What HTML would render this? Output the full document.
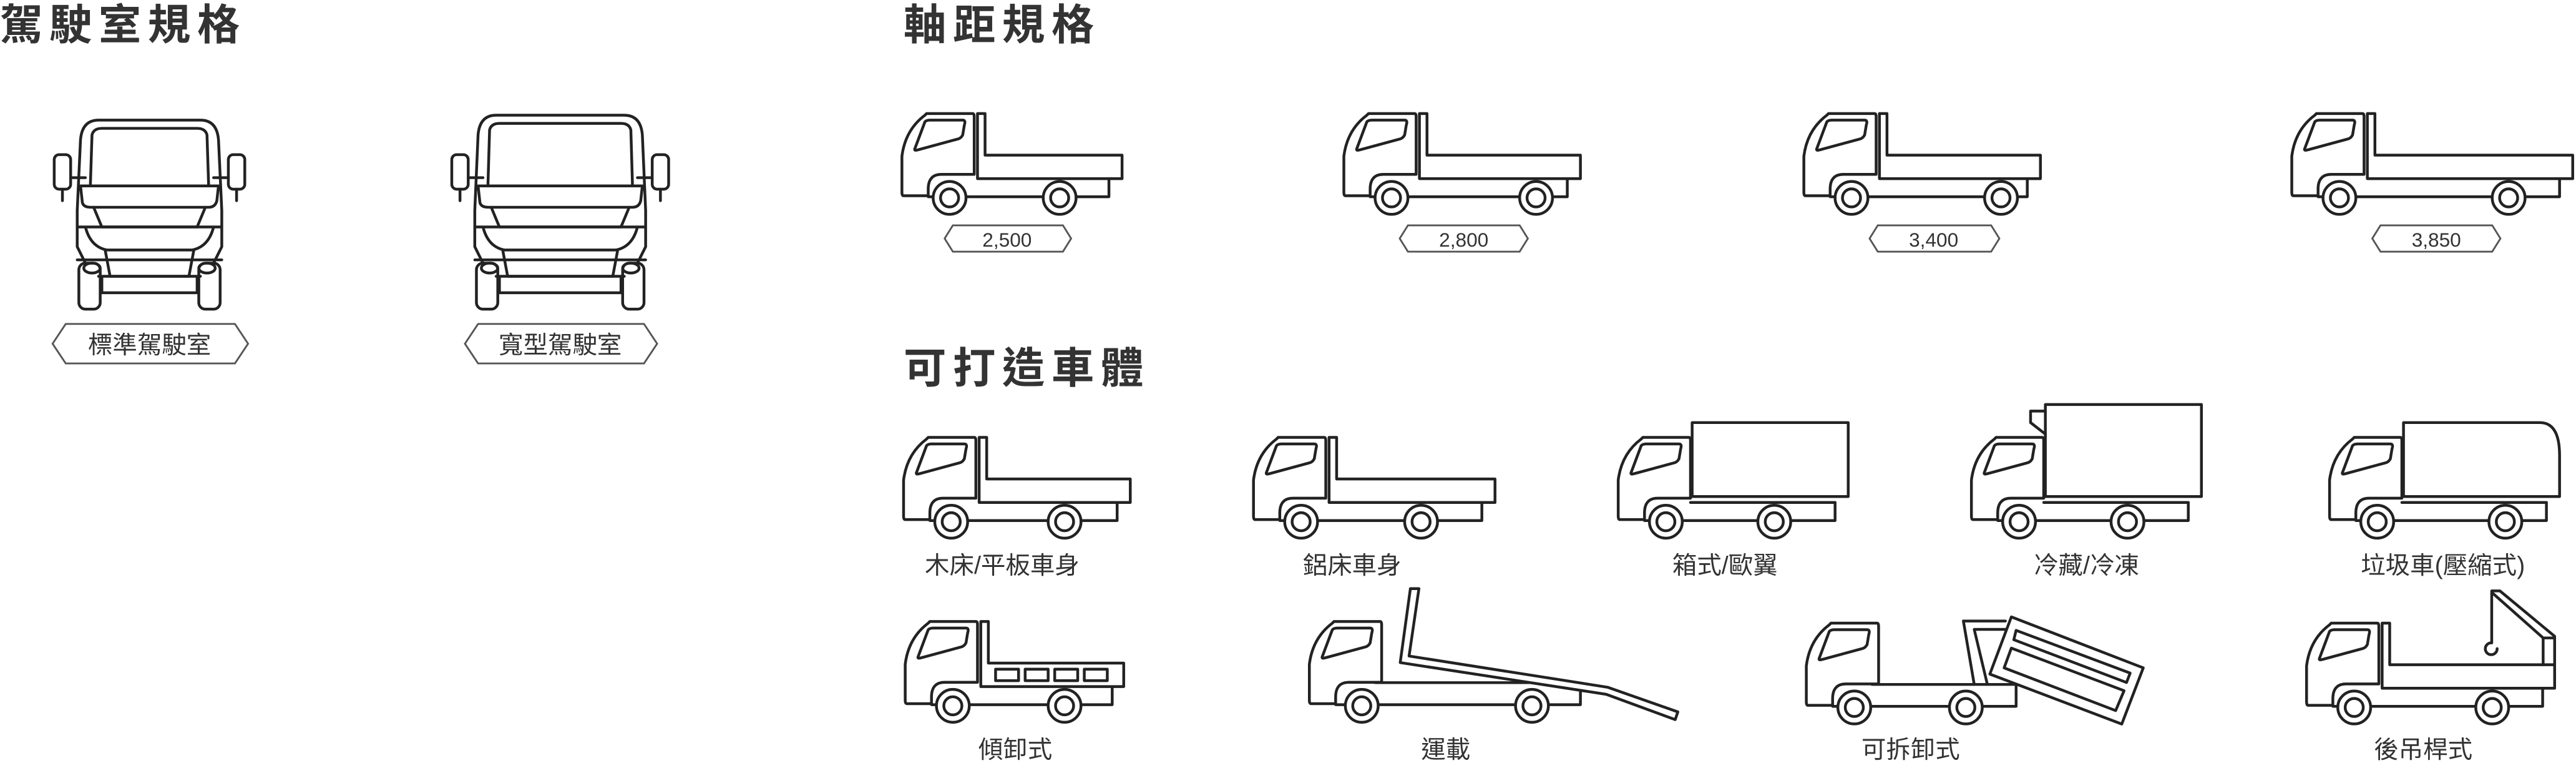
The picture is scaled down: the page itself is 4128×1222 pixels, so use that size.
<!DOCTYPE html>
<html><head><meta charset="utf-8">
<style>
html,body{margin:0;padding:0;background:#fff;}
svg{display:block;}
text{font-family:"Liberation Sans","Noto Sans CJK TC",sans-serif;fill:#333;}
</style></head>
<body>
<svg id="s" width="4128" height="1222" viewBox="0 0 1568 464" xmlns="http://www.w3.org/2000/svg">
<g id="art" fill="none" stroke="#222" stroke-width="1.7" stroke-linejoin="round" stroke-linecap="round"></g>
<g font-weight="bold" font-size="26" letter-spacing="4">
<text x="0" y="24">駕駛室規格</text>
<text x="550" y="24">軸距規格</text>
<text x="550" y="233">可打造車體</text>
</g>
<g fill="none" stroke="#555" stroke-width="1.1">
<path d="M40,197 L143,197 L151,209 L143,221 L40,221 L32,209 Z"/>
<path d="M291,197 L392,197 L400,209 L392,221 L291,221 L283,209 Z"/>
<path d="M580,137 L647,137 L652,145 L647,153 L580,153 L575,145 Z"/>
<path d="M857,137 L925,137 L930,145 L925,153 L857,153 L852,145 Z"/>
<path d="M1143,137 L1212,137 L1217,145 L1212,153 L1143,153 L1138,145 Z"/>
<path d="M1449,137 L1517,137 L1522,145 L1517,153 L1449,153 L1444,145 Z"/>
</g>
<g font-size="15" text-anchor="middle">
<text x="91" y="215">標準駕駛室</text>
<text x="341" y="215">寬型駕駛室</text>
</g>
<g font-size="12" text-anchor="middle">
<text x="613" y="150">2,500</text>
<text x="891" y="150">2,800</text>
<text x="1177" y="150">3,400</text>
<text x="1483" y="150">3,850</text>
</g>
<g font-size="15" text-anchor="middle">
<text x="610" y="349">木床/平板車身</text>
<text x="823" y="349">鋁床車身</text>
<text x="1050" y="349">箱式/歐翼</text>
<text x="1270" y="349">冷藏/冷凍</text>
<text x="1487" y="349">垃圾車(壓縮式)</text>
<text x="618" y="461">傾卸式</text>
<text x="880" y="461">運載</text>
<text x="1163" y="461">可拆卸式</text>
<text x="1475" y="461">後吊桿式</text>
</g>
</svg>
<script>
var A=document.getElementById('art'),h='';
function T(x,y,o){
 var s='<g transform="translate('+x+','+y+')">';
 s+='<path d="M16,50 L1,50 Q0,50 0,48 L0,26 Q2,10 14,1 L15,0 L43,0 Q44,0 44,2 L44,37 L24,37 Q16,37 16,46 Z"/>';
 s+='<path d="M8,21 L14,5 Q15,4 17,4 L37,4 Q39,4 38,7 L37,13 Q36,15 34,15.5 L10,22 Q7,23 8,21 Z"/>';
 var ce=o.ce;
 if(o.t=='flat'){s+='<path d="M46,39.6 L46,0 L50.6,0 L50.6,25.3 L'+o.be+',25.3 L'+o.be+',39.6 Z"/>';}
 if(o.t=='box'){s+='<path d="M45,36 L45,'+o.top+' L'+(o.round?o.be-12:o.be)+','+o.top+(o.round?' Q'+o.be+','+o.top+' '+o.be+','+(o.top+20):'')+' L'+o.be+',36 Z"/><path d="M44,39.6 L'+ce+',39.6"/>';}
 s+='<path d="M16,50.6 L'+ce+',50.6 L'+ce+','+(o.cet||39.6)+'"/>';
 if(o.x)s+=o.x;
 [o.w1||29,o.w2].forEach(function(w){s+='<circle cx="'+w+'" cy="51.3" r="10" fill="#fff"/><circle cx="'+w+'" cy="51.3" r="5.5"/>';});
 return s+'</g>';
}
// wheelbase
h+=T(549,69,{t:'flat',be:134,ce:126,w2:96});
h+=T(818,69,{t:'flat',be:144,ce:136,w2:117});
h+=T(1098,69,{t:'flat',be:144,ce:136,w2:120});
h+=T(1395,69,{t:'flat',be:171,ce:163,w2:132});
// row1
h+=T(550,266,{t:'flat',be:138,ce:130,w2:98});
h+=T(763,266,{t:'flat',be:147,ce:139,w2:102});
h+=T(985,266,{t:'box',top:-9,be:140,ce:132,w2:95});
h+=T(1200,266,{t:'box',top:-20,be:140,ce:132,w2:95,x:'<path d="M45,-2 L36,-9 L36,-16 L45,-16"/>'});
h+=T(1418,266,{t:'box',top:-9,be:140,round:1,ce:132,w2:107});
// row2
h+=T(551,378,{t:'flat',be:133,ce:126,w2:97,x:'<rect x="55" y="29" width="14" height="7"/><rect x="73" y="29" width="14" height="7"/><rect x="91" y="29" width="14" height="7"/><rect x="109" y="29" width="14" height="7"/>'});
h+=T(797,378,{t:'none',ce:165,cet:43,w1:31.9,w2:135.5,x:'<path d="M40,37.2 L134.6,37.2"/><path d="M61.5,-20 L66.7,-20 L60.7,21 L181.5,40 L224.3,55 L222.7,59.7 L180.7,44.3 L55.3,25 Z" fill="#fff"/>'});
h+=T(1099.5,379,{t:'none',ce:127.7,cet:37.3,w1:29.2,w2:97.1,x:'<path d="M40,37.3 L127.7,37.3"/><path d="M102.2,37.3 L95.6,-1.3 L121.2,-1.3 M110.2,37.3 L102.2,3.8 L121.2,3.8"/><path d="M124.8,-3.8 L205.1,27.2 L192,61.4 L111.7,31 Z" fill="#fff"/><path d="M127.7,4.4 L197.1,30.4 L194.9,36.1 L126.3,10.1 Z"/><path d="M124.8,15.2 L193.4,41.1 L188.3,53.2 L120.4,27.2 Z"/>'});
h+=T(1404,379,{t:'flat',be:151,ce:143.7,w2:113,x:'<path d="M112.7,12 L112.7,-19.6 L117.7,-19.6 L151,8 L151,25.3"/><path d="M113.5,-18 L144,9 L151,9 M144,9 L144,25.3"/><path d="M112.7,12 A3.6,3.6 0 1 0 116,15.5"/>'});
// cab fronts
function F(cx,w,t){
 var L=cx-w,R=cx+w,s='';
 s+='<path d="M'+(L+3)+',160 L'+(L-2)+',150 L'+(L-2)+',128 L'+(L)+','+(t+12)+' Q'+(L+1)+','+t+' '+(L+11)+','+t+' L'+(R-11)+','+t+' Q'+(R-1)+','+t+' '+R+','+(t+12)+' L'+(R+2)+',128 L'+(R+2)+',150 L'+(R-3)+',160"/>';
 s+='<path d="M'+(L+6)+',113 L'+(L+7)+','+(t+9)+' Q'+(L+8)+','+(t+5)+' '+(L+13)+','+(t+5)+' L'+(R-13)+','+(t+5)+' Q'+(R-8)+','+(t+5)+' '+(R-7)+','+(t+9)+' L'+(R-6)+',113 Z"/>';
 s+='<path d="M'+L+',113 L'+R+',113 L'+(R-1)+',122 Q'+(R-2)+',126 '+(R-6)+',126 L'+(L+6)+',126 Q'+(L+1)+',126 '+(L+1)+',122 Z"/>';
 s+='<path d="M'+(L+8)+',126 L'+(L+13)+',138 L'+(R-13)+',138 L'+(R-8)+',126"/>';
 s+='<path d="M'+(L-1)+',138 L'+(R+1)+',138 M'+(L+3)+',138 Q'+(L+6)+',150 '+(L+16)+',152 L'+(R-16)+',152 Q'+(R-6)+',150 '+(R-3)+',138"/>';
 s+='<path d="M'+(L+15)+',152 L'+(L+18)+',168 L'+(R-18)+',168 L'+(R-15)+',152 M'+(L-2)+',158 L'+(R+2)+',158"/>';
 s+='<path d="M'+(L+11)+',168 L'+(R-11)+',168 M'+(L+13)+',168 L'+(L+13)+',178 L'+(R-13)+',178 L'+(R-13)+',168"/>';
 s+='<ellipse cx="'+(L+7)+'" cy="163" rx="5" ry="3"/><ellipse cx="'+(R-7)+'" cy="163" rx="5" ry="3"/>';
 s+='<rect x="'+(L-1)+'" y="160" width="13" height="28" rx="4"/><rect x="'+(R-12)+'" y="160" width="13" height="28" rx="4"/>';
 s+='<rect x="'+(L-16)+'" y="94" width="10" height="21" rx="3"/><rect x="'+(R+6)+'" y="94" width="10" height="21" rx="3"/>';
 s+='<path d="M'+(L-6)+',108 L'+(L+3)+',108 M'+(R+6)+',108 L'+(R-3)+',108 M'+(L-11)+',115 L'+(L-11)+',122 M'+(R+11)+',115 L'+(R+11)+',122"/>';
 return s;
}
h+=F(91,42,73);
h+=F(341,50,70);
A.innerHTML=h;
</script>
</body></html>
